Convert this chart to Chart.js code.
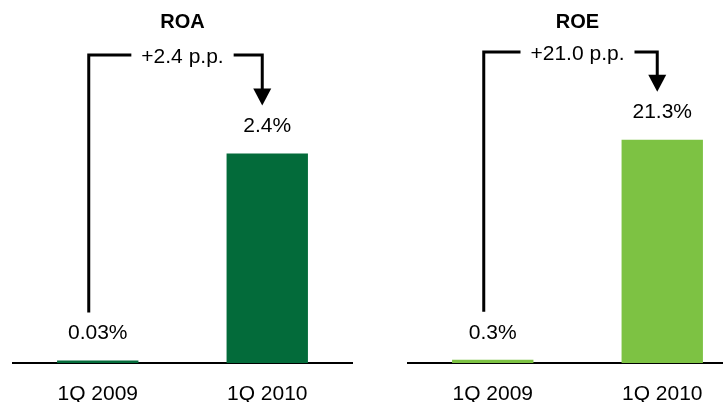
<!DOCTYPE html>
<html>
<head>
<meta charset="utf-8">
<script src="https://cdn.jsdelivr.net/npm/chart.js@4/dist/chart.umd.min.js"></script>
<style>
    html, body { margin: 0; padding: 0; background: #fff; overflow: hidden; }
    body { width: 723px; height: 402px; position: relative; }
    .box { position: absolute; top: 0; width: 365px; height: 402px; }
    #roa-box { left: 0; }
    #roe-box { left: 395px; }
</style>
</head>
<body>
<div class="box" id="roa-box"><canvas id="roa"></canvas></div>
<div class="box" id="roe-box"><canvas id="roe"></canvas></div>
<script>
const quarters = ["1Q 2009", "1Q 2010"];
const roaValues = [0.03, 2.4];
const roeValues = [0.3, 21.3];
const roaLabels = ["0.03%", "2.4%"];
const roeLabels = ["0.3%", "21.3%"];
const roaDelta = "+2.4 p.p.";
const roeDelta = "+21.0 p.p.";

const FONT = "'Liberation Sans', Arial, Helvetica, sans-serif";

// value labels above bars + the bracket arrow between them
const bracket = {
    id: "bracket",
    afterDatasetsDraw(chart, args, opts) {
        const ctx = chart.ctx;
        const bars = chart.getDatasetMeta(0).data;
        const area = chart.chartArea;
        ctx.save();
        ctx.font = "21px " + FONT;
        ctx.fillStyle = "#000";
        ctx.textAlign = "center";
        ctx.textBaseline = "middle";
        const labelY = bars.map((b) => b.y - 27);
        bars.forEach((b, i) => ctx.fillText(opts.labels[i], b.x, labelY[i]));

        const x0 = bars[0].x - 9;
        const x1 = bars[1].x - 5;
        const top = opts.top;
        const start = labelY[0] - 21;
        const tip = labelY[1] - 21;
        const mid = (area.left + area.right) / 2;
        const tw = ctx.measureText(opts.delta).width;

        ctx.lineWidth = 3;
        ctx.strokeStyle = "#000";
        ctx.lineJoin = "miter";
        ctx.beginPath();
        ctx.moveTo(x0, start);
        ctx.lineTo(x0, top);
        ctx.lineTo(mid - tw / 2 - 10, top);
        ctx.stroke();
        ctx.beginPath();
        ctx.moveTo(mid + tw / 2 + 10, top);
        ctx.lineTo(x1, top);
        ctx.lineTo(x1, tip - 16);
        ctx.stroke();
        ctx.beginPath();
        ctx.moveTo(x1 - 9, tip - 17);
        ctx.lineTo(x1 + 9, tip - 17);
        ctx.lineTo(x1, tip);
        ctx.closePath();
        ctx.fill();

        ctx.fillText(opts.delta, mid, top + 2);
        ctx.restore();
    },
};

function makeChart(el, title, values, labels, delta, color, yMax, top) {
    return new Chart(el, {
        type: "bar",
        data: {
            labels: quarters,
            datasets: [
                {
                    data: values,
                    backgroundColor: color,
                    barPercentage: 0.48,
                    categoryPercentage: 1,
                },
            ],
        },
        options: {
            responsive: true,
            maintainAspectRatio: false,
            animation: false,
            layout: {
                padding: { left: 13, right: 13, top: 0, bottom: -24 },
            },
            scales: {
                x: {
                    z: 1,
                    grid: { display: false, drawTicks: false },
                    border: { display: true, color: "#000", width: 2 },
                    ticks: {
                        color: "#000",
                        padding: 21,
                        font: { family: FONT, size: 21, lineHeight: 1 },
                        maxRotation: 0,
                    },
                },
                y: {
                    display: false,
                    min: 0,
                    max: yMax,
                },
            },
            plugins: {
                legend: { display: false },
                tooltip: { enabled: false },
                title: {
                    display: true,
                    text: title,
                    color: "#000",
                    font: { family: FONT, size: 20, weight: "bold", lineHeight: 1.2 },
                    padding: { top: 10, bottom: 6 },
                },
                bracket: { labels: labels, delta: delta, top: top },
            },
        },
        plugins: [bracket],
    });
}

makeChart(document.getElementById("roa"), "ROA", roaValues, roaLabels, roaDelta, "#036B3A", 3.7, 55);
makeChart(document.getElementById("roe"), "ROE", roeValues, roeLabels, roeDelta, "#7DC243", 30.8, 52);
</script>
</body>
</html>
